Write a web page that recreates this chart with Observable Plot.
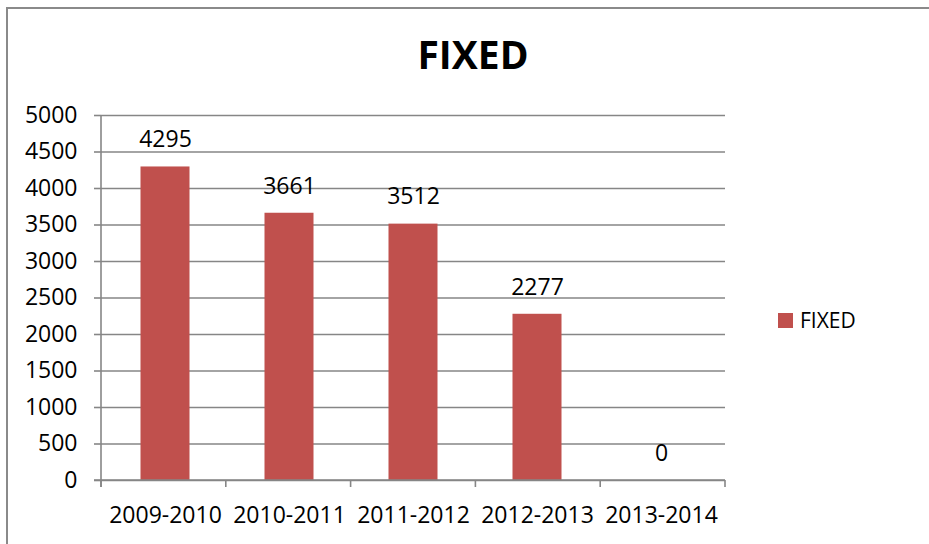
<!DOCTYPE html>
<html>
<head>
<meta charset="utf-8">
<script src="https://cdn.jsdelivr.net/npm/d3@7"></script>
<script src="https://cdn.jsdelivr.net/npm/@observablehq/plot@0.6"></script>
<style>
  html, body { margin: 0; padding: 0; background: #fff; }
  #wrap { position: relative; width: 929px; height: 544px; overflow: hidden; font-family: "Open Sans", sans-serif; }
  #frame { position: absolute; left: 6px; top: 7px; width: 1000px; height: 600px; border: 2px solid #8a8a8a; box-sizing: border-box; }
  #title { position: absolute; left: 0; width: 946px; top: 34px; text-align: center; font-weight: 700; font-size: 39px; line-height: 1; color: #000; }
  #legend { position: absolute; left: 778px; top: 306px; display: flex; align-items: center; font-size: 21px; color: #000; }
  #legend .sw { width: 15px; height: 15px; background: #C0504D; margin-right: 7px; }
  #chart { position: absolute; left: 0; top: 0; }
</style>
</head>
<body>
<div id="wrap">
  <div id="frame"></div>
  <div id="chart"></div>
  <div id="title">FIXED</div>
  <div id="legend"><div class="sw"></div><span>FIXED</span></div>
</div>
<script>
const categories = ["2009-2010", "2010-2011", "2011-2012", "2012-2013", "2013-2014"];
const values = [4295, 3661, 3512, 2277, 0];
const yTicks = [0, 500, 1000, 1500, 2000, 2500, 3000, 3500, 4000, 4500, 5000];
const seriesName = "FIXED";

const data = categories.map((c, i) => ({period: c, value: values[i]}));
const grey = "#868686";

const plot = Plot.plot({
  width: 929,
  height: 544,
  marginLeft: 101,
  marginRight: 204,
  marginTop: 115,
  marginBottom: 64,
  style: {fontFamily: "Open Sans, sans-serif", fontSize: "23px", color: "#000", background: "transparent"},
  x: {domain: categories, padding: 0},
  y: {domain: [0, 5000]},
  marks: [
    Plot.ruleY(yTicks, {stroke: grey, strokeWidth: 1.6}),
    Plot.barY(data, {x: "period", y: "value", fill: "#C0504D", insetLeft: 37.5, insetRight: 37.5}),
    Plot.text(data, {x: "period", y: "value", text: d => String(d.value), dy: -27, fontSize: 23, fill: "#000"}),
    Plot.axisY({ticks: yTicks, tickSize: 7, tickPadding: 17, stroke: grey, strokeWidth: 1.6, fontSize: 23, label: null, tickFormat: d => String(d)}),
    Plot.axisX({tickSize: 0, tickPadding: 26, fontSize: 23, label: null})
  ]
});

document.getElementById("chart").appendChild(plot);

// axis lines and category-boundary ticks, positioned via the plot's scales
const xs = plot.scale("x");
const ys = plot.scale("y");
const x0 = xs.range[0], x1 = xs.range[1];
const yBase = ys.apply(0), yTop = ys.apply(5000);
const svg = d3.select(plot);
const g = svg.append("g").attr("stroke", grey).attr("stroke-width", 1.6);
g.append("line").attr("x1", x0).attr("x2", x0).attr("y1", yTop).attr("y2", yBase + 7);
g.append("line").attr("x1", x0 - 7).attr("x2", x1).attr("y1", yBase).attr("y2", yBase);
const step = (x1 - x0) / categories.length;
for (let i = 0; i <= categories.length; i++) {
  const xx = x0 + i * step;
  g.append("line").attr("x1", xx).attr("x2", xx).attr("y1", yBase).attr("y2", yBase + 7);
}
</script>
</body>
</html>
